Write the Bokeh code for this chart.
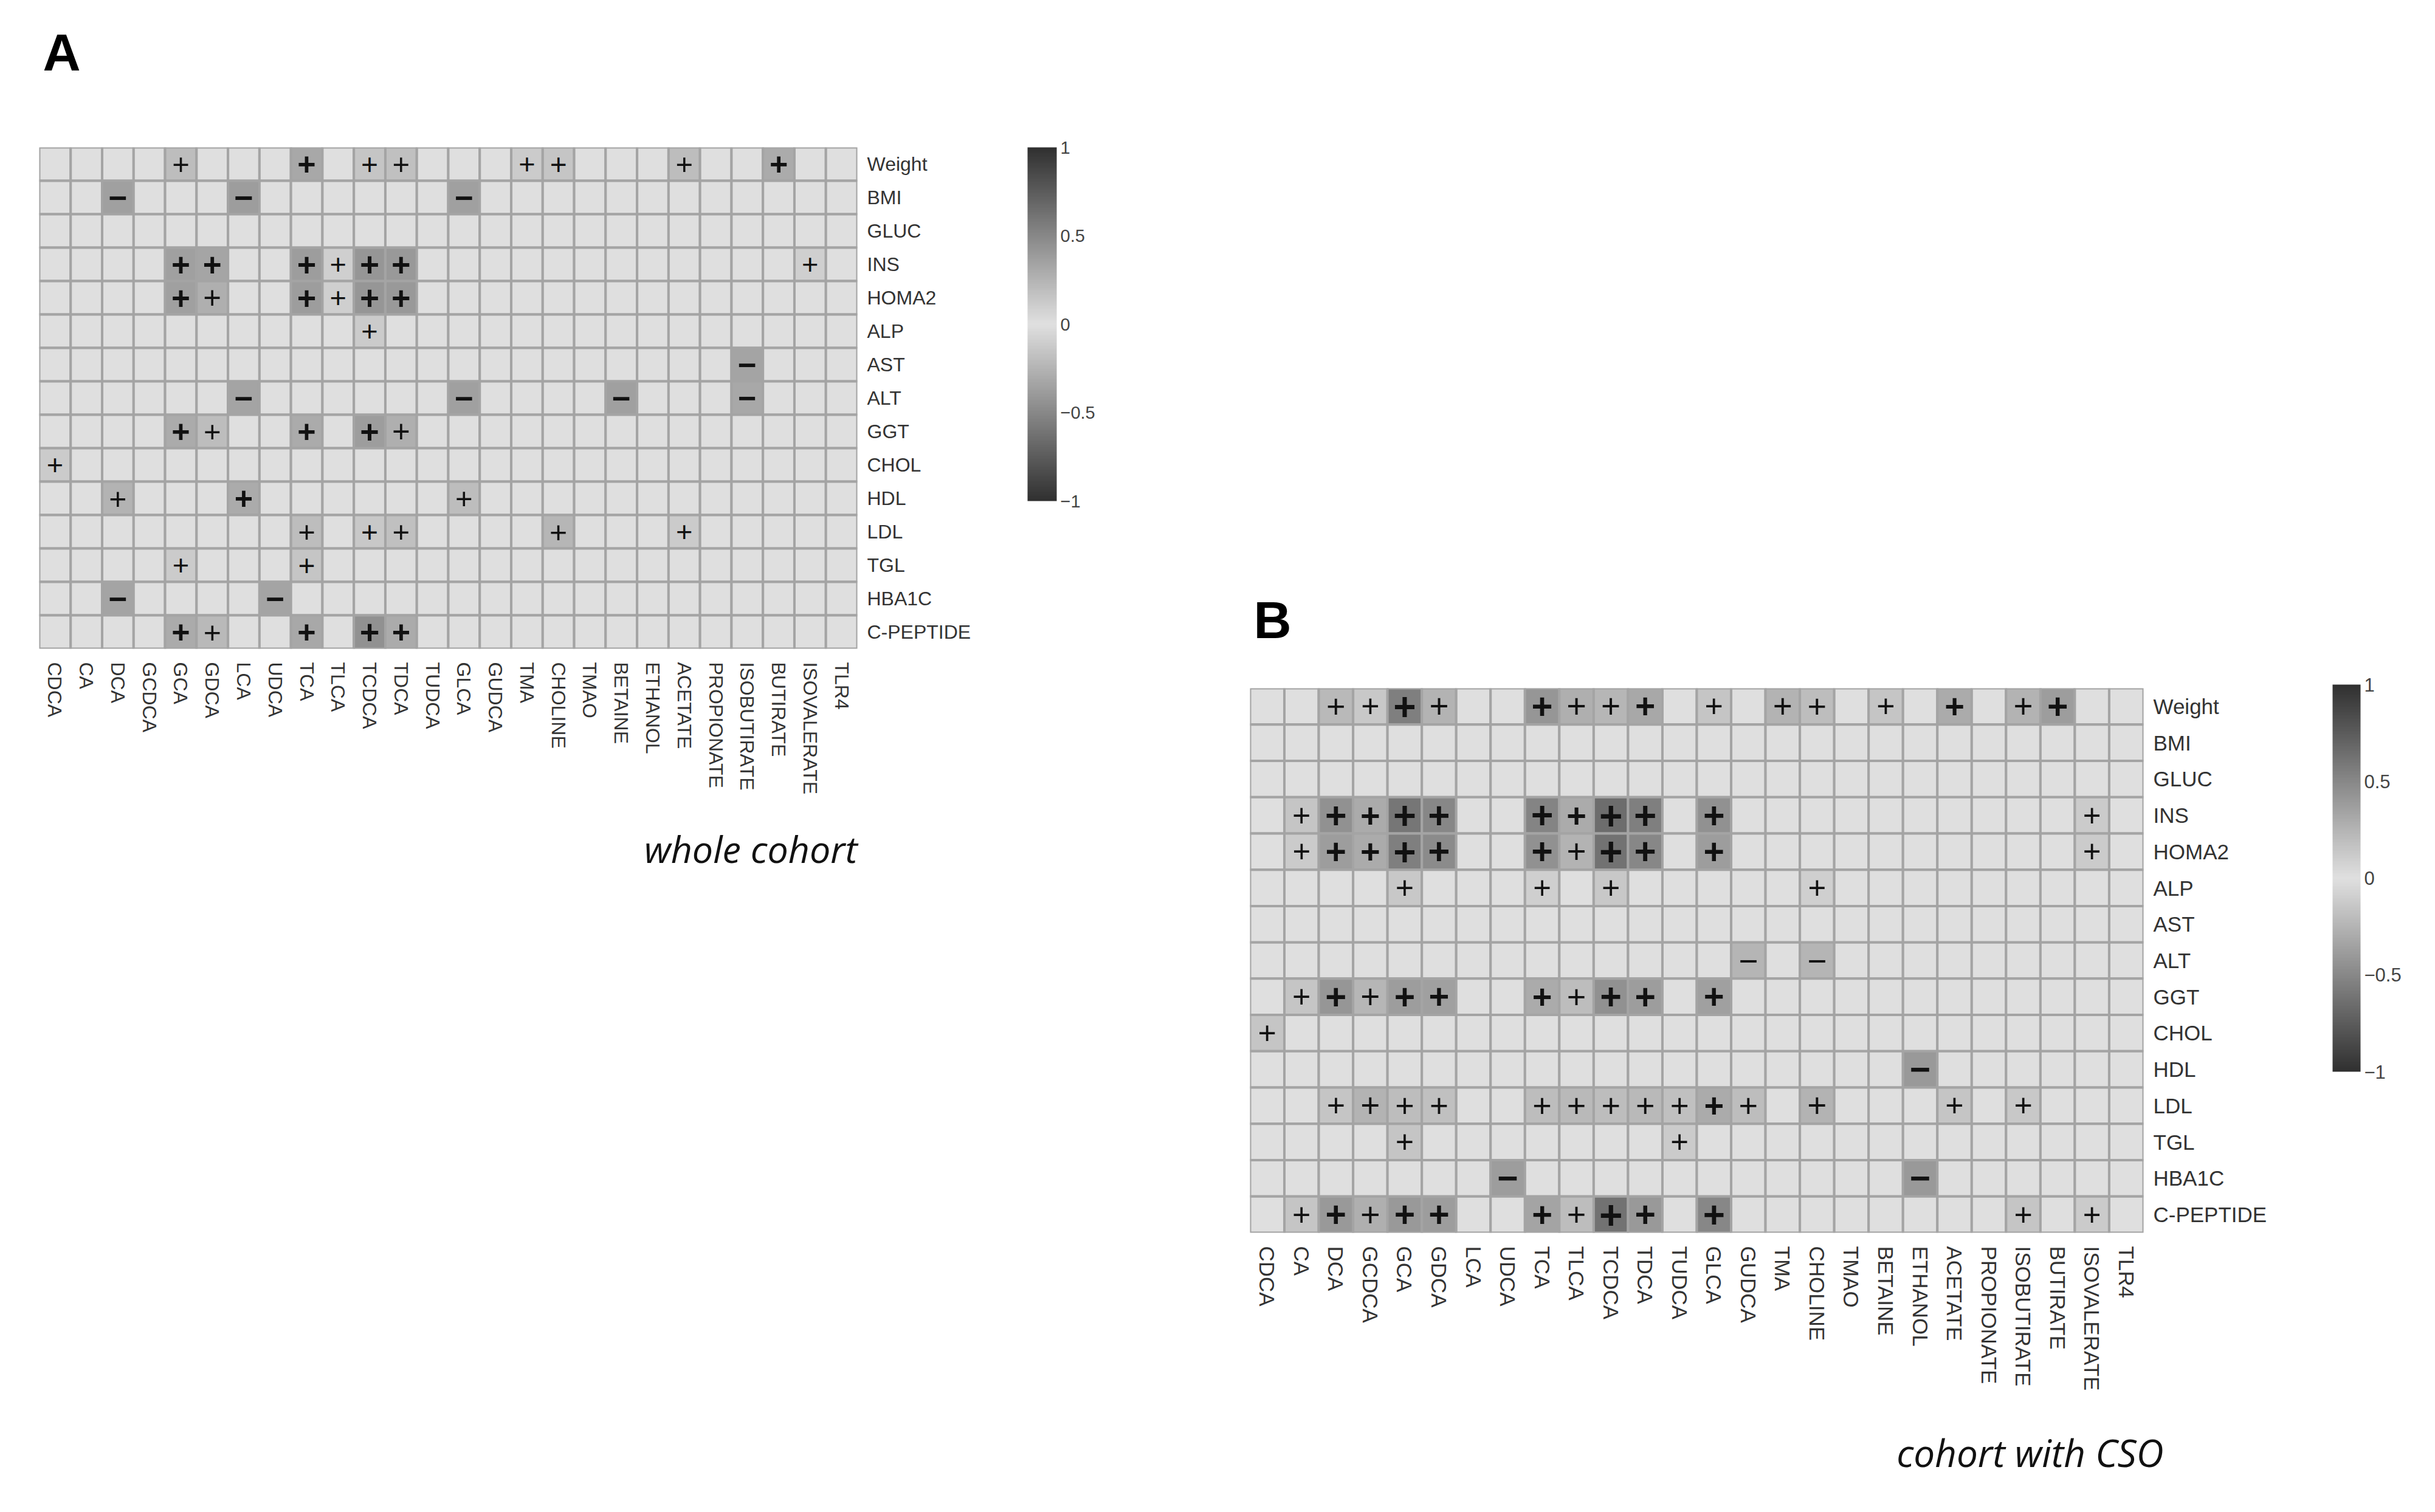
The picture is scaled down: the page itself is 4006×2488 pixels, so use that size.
import math
from bokeh.plotting import figure
from bokeh.models import (FactorRange, ColumnDataSource, LinearColorMapper, ColorBar,
                          FixedTicker, Title)
from bokeh.layouts import row
from bokeh.transform import transform
from bokeh.core.properties import value, field
from bokeh.embed import file_html
from bokeh.resources import INLINE

COLUMNS = ["CDCA", "CA", "DCA", "GCDCA", "GCA", "GDCA", "LCA", "UDCA", "TCA", "TLCA",
           "TCDCA", "TDCA", "TUDCA", "GLCA", "GUDCA", "TMA", "CHOLINE", "TMAO", "BETAINE",
           "ETHANOL", "ACETATE", "PROPIONATE", "ISOBUTIRATE", "BUTIRATE", "ISOVALERATE", "TLR4"]
ROWS = ["Weight", "BMI", "GLUC", "INS", "HOMA2", "ALP", "AST", "ALT", "GGT", "CHOL",
        "HDL", "LDL", "TGL", "HBA1C", "C-PEPTIDE"]
COLORBAR_TICKS = [-1, -0.5, 0, 0.5, 1]
COLORBAR_LABELS = ["\u22121", "\u22120.5", "0", "0.5", "1"]
PANEL_LETTERS = ["A", "B"]
CAPTIONS = ["whole cohort", "cohort with CSO"]

# Panel A (whole cohort): correlation values, columns in COLUMNS order
A_WEIGHT = [0, 0, 0, 0, .20, 0, 0, 0, .32, 0, .15, .18, 0, 0, 0, .12, .15, 0, 0, 0, .20, 0, 0, .30, 0, 0]
A_BMI    = [0, 0, -.36, 0, 0, 0, -.38, 0, 0, 0, 0, 0, 0, -.36, 0, 0, 0, 0, 0, 0, 0, 0, 0, 0, 0, 0]
A_GLUC   = [0, 0, 0, 0, 0, 0, 0, 0, 0, 0, 0, 0, 0, 0, 0, 0, 0, 0, 0, 0, 0, 0, 0, 0, 0, 0]
A_INS    = [0, 0, 0, 0, .36, .33, 0, 0, .38, .10, .42, .40, 0, 0, 0, 0, 0, 0, 0, 0, 0, 0, 0, 0, .10, 0]
A_HOMA2  = [0, 0, 0, 0, .36, .28, 0, 0, .38, .10, .42, .40, 0, 0, 0, 0, 0, 0, 0, 0, 0, 0, 0, 0, 0, 0]
A_ALP    = [0, 0, 0, 0, 0, 0, 0, 0, 0, 0, .12, 0, 0, 0, 0, 0, 0, 0, 0, 0, 0, 0, 0, 0, 0, 0]
A_AST    = [0, 0, 0, 0, 0, 0, 0, 0, 0, 0, 0, 0, 0, 0, 0, 0, 0, 0, 0, 0, 0, 0, -.34, 0, 0, 0]
A_ALT    = [0, 0, 0, 0, 0, 0, -.34, 0, 0, 0, 0, 0, 0, -.36, 0, 0, 0, 0, -.36, 0, 0, 0, -.32, 0, 0, 0]
A_GGT    = [0, 0, 0, 0, .30, .20, 0, 0, .30, 0, .38, .28, 0, 0, 0, 0, 0, 0, 0, 0, 0, 0, 0, 0, 0, 0]
A_CHOL   = [.12, 0, 0, 0, 0, 0, 0, 0, 0, 0, 0, 0, 0, 0, 0, 0, 0, 0, 0, 0, 0, 0, 0, 0, 0, 0]
A_HDL    = [0, 0, .25, 0, 0, 0, .30, 0, 0, 0, 0, 0, 0, .20, 0, 0, 0, 0, 0, 0, 0, 0, 0, 0, 0, 0]
A_LDL    = [0, 0, 0, 0, 0, 0, 0, 0, .20, 0, .14, .18, 0, 0, 0, 0, .24, 0, 0, 0, .12, 0, 0, 0, 0, 0]
A_TGL    = [0, 0, 0, 0, .12, 0, 0, 0, .15, 0, 0, 0, 0, 0, 0, 0, 0, 0, 0, 0, 0, 0, 0, 0, 0, 0]
A_HBA1C  = [0, 0, -.34, 0, 0, 0, 0, -.34, 0, 0, 0, 0, 0, 0, 0, 0, 0, 0, 0, 0, 0, 0, 0, 0, 0, 0]
A_CPEP   = [0, 0, 0, 0, .30, .22, 0, 0, .32, 0, .45, .30, 0, 0, 0, 0, 0, 0, 0, 0, 0, 0, 0, 0, 0, 0]

# Panel B (cohort with CSO)
B_WEIGHT = [0, 0, .22, .14, .55, .25, 0, 0, .42, .28, .24, .32, 0, .15, 0, .25, .20, 0, .15, 0, .30, 0, .25, .38, 0, 0]
B_BMI    = [0, 0, 0, 0, 0, 0, 0, 0, 0, 0, 0, 0, 0, 0, 0, 0, 0, 0, 0, 0, 0, 0, 0, 0, 0, 0]
B_GLUC   = [0, 0, 0, 0, 0, 0, 0, 0, 0, 0, 0, 0, 0, 0, 0, 0, 0, 0, 0, 0, 0, 0, 0, 0, 0, 0]
B_INS    = [0, .15, .45, .30, .60, .50, 0, 0, .52, .30, .65, .55, 0, .45, 0, 0, 0, 0, 0, 0, 0, 0, 0, 0, .12, 0]
B_HOMA2  = [0, .12, .38, .30, .55, .48, 0, 0, .45, .25, .62, .50, 0, .38, 0, 0, 0, 0, 0, 0, 0, 0, 0, 0, .12, 0]
B_ALP    = [0, 0, 0, 0, .14, 0, 0, 0, .10, 0, .14, 0, 0, 0, 0, 0, .10, 0, 0, 0, 0, 0, 0, 0, 0, 0]
B_AST    = [0, 0, 0, 0, 0, 0, 0, 0, 0, 0, 0, 0, 0, 0, 0, 0, 0, 0, 0, 0, 0, 0, 0, 0, 0, 0]
B_ALT    = [0, 0, 0, 0, 0, 0, 0, 0, 0, 0, 0, 0, 0, 0, -.25, 0, -.25, 0, 0, 0, 0, 0, 0, 0, 0, 0]
B_GGT    = [0, .15, .42, .24, .38, .36, 0, 0, .30, .20, .45, .38, 0, .36, 0, 0, 0, 0, 0, 0, 0, 0, 0, 0, 0, 0]
B_CHOL   = [.15, 0, 0, 0, 0, 0, 0, 0, 0, 0, 0, 0, 0, 0, 0, 0, 0, 0, 0, 0, 0, 0, 0, 0, 0, 0]
B_HDL    = [0, 0, 0, 0, 0, 0, 0, 0, 0, 0, 0, 0, 0, 0, 0, 0, 0, 0, 0, -.40, 0, 0, 0, 0, 0, 0]
B_LDL    = [0, 0, .15, .25, .20, .18, 0, 0, .20, .22, .20, .22, .18, .30, .20, 0, .25, 0, 0, 0, .15, 0, .14, 0, 0, 0]
B_TGL    = [0, 0, 0, 0, .15, 0, 0, 0, 0, 0, 0, 0, .12, 0, 0, 0, 0, 0, 0, 0, 0, 0, 0, 0, 0, 0]
B_HBA1C  = [0, 0, 0, 0, 0, 0, 0, -.38, 0, 0, 0, 0, 0, 0, 0, 0, 0, 0, 0, -.40, 0, 0, 0, 0, 0, 0]
B_CPEP   = [0, .15, .40, .28, .40, .38, 0, 0, .34, .20, .62, .40, 0, .50, 0, 0, 0, 0, 0, 0, 0, 0, .15, 0, .12, 0]

A_ROWS = [A_WEIGHT, A_BMI, A_GLUC, A_INS, A_HOMA2, A_ALP, A_AST, A_ALT, A_GGT, A_CHOL,
          A_HDL, A_LDL, A_TGL, A_HBA1C, A_CPEP]
B_ROWS = [B_WEIGHT, B_BMI, B_GLUC, B_INS, B_HOMA2, B_ALP, B_AST, B_ALT, B_GGT, B_CHOL,
          B_HDL, B_LDL, B_TGL, B_HBA1C, B_CPEP]


def gray(t):
    g = int(round(224 - 176 * abs(t)))
    return "#%02x%02x%02x" % (g, g, g)


PALETTE = [gray(-1 + 2 * i / 255) for i in range(256)]
FONT = "Liberation Sans"
TITLE_PROPS = Title.properties()


def make_title(text, standoff, **kw):
    if "standoff" in TITLE_PROPS:
        kw["standoff"] = standoff
    return Title(text=text, **kw)


def make_panel(rows_vals, letter, caption, frame_w, frame_h, b_left, b_top, b_right, b_bottom,
               label_px, cbar_w, cbar_h, cbar_loc, cbar_px, sign_scale, cap_px,
               letter_gap, cap_standoff, cap_offset):
    xs, ys, vs, signs, sizes, styles = [], [], [], [], [], []
    for rname, vals in zip(ROWS, rows_vals):
        for cname, v in zip(COLUMNS, vals):
            xs.append(cname)
            ys.append(rname)
            vs.append(v)
            if v > 0:
                signs.append("+")
            elif v < 0:
                signs.append("\u2212")
            else:
                signs.append("")
            sizes.append("%dpx" % round((44 + 26 * abs(v)) * sign_scale))
            styles.append("bold" if abs(v) >= 0.3 else "normal")
    src = ColumnDataSource(dict(x=xs, y=ys, v=vs, sign=signs, size=sizes, style=styles))
    mapper = LinearColorMapper(palette=PALETTE, low=-1, high=1)

    p = figure(x_range=FactorRange(factors=COLUMNS),
               y_range=FactorRange(factors=list(reversed(ROWS))),
               frame_width=frame_w, frame_height=frame_h,
               min_border_left=b_left, min_border_top=b_top,
               min_border_right=b_right, min_border_bottom=b_bottom,
               x_axis_location="below", y_axis_location="right",
               output_backend="svg", toolbar_location=None, tools="")
    if "frame_align" in type(p).properties():
        p.frame_align = False
    p.rect("x", "y", 1, 1, source=src, fill_color=transform("v", mapper),
           line_color="#a4a4a4", line_width=4)
    p.text("x", "y", text="sign", source=src, text_align="center", text_baseline="middle",
           text_font=value(FONT), text_font_size=field("size"), text_font_style=field("style"),
           text_color="#111111")

    p.grid.grid_line_color = None
    p.outline_line_color = None
    p.background_fill_color = "white"
    for ax in (p.xaxis[0], p.yaxis[0]):
        ax.axis_line_color = None
        ax.major_tick_line_color = None
        ax.minor_tick_line_color = None
        ax.major_label_text_font = FONT
        ax.major_label_text_font_size = "%dpx" % label_px
        ax.major_label_text_color = "#333333"
    p.xaxis.major_label_orientation = -math.pi / 2
    p.xaxis.major_label_standoff = 16
    p.yaxis.major_label_standoff = 10

    cbar = ColorBar(color_mapper=mapper, ticker=FixedTicker(ticks=COLORBAR_TICKS),
                    major_label_overrides=dict(zip(COLORBAR_TICKS, COLORBAR_LABELS)),
                    width=cbar_w, height=cbar_h, location=cbar_loc, margin=0, padding=0,
                    bar_line_color=None, major_tick_line_color=None,
                    minor_tick_line_color=None, label_standoff=6,
                    major_label_text_font=FONT,
                    major_label_text_font_size="%dpx" % cbar_px,
                    major_label_text_color="#444444",
                    background_fill_color=None, border_line_color=None)
    p.add_layout(cbar, "right")

    # spacer between the frame and the panel letter
    p.add_layout(make_title(" ", letter_gap, text_font=FONT, text_font_size="2px",
                            text_color="#ffffff"), "above")
    p.add_layout(make_title(letter, 10, align="left", offset=6, text_font=FONT,
                            text_font_size="86px", text_font_style="bold",
                            text_color="#000000"), "above")
    p.add_layout(make_title(caption, cap_standoff, align="right", offset=cap_offset,
                            text_font="Open Sans",
                            text_font_size="%dpx" % cap_px, text_font_style="italic",
                            text_color="#111111"), "below")
    return p


pa = make_panel(A_ROWS, PANEL_LETTERS[0], CAPTIONS[0], 1346, 825, 64, 242, 432, 440,
                32, 48, 582, (90, 243), 29, 1.0, 61, 100, 84, 0)
pb = make_panel(B_ROWS, PANEL_LETTERS[1], CAPTIONS[1], 1470, 896, 214, 1132, 464, 450,
                35, 46, 637, (105, 265), 31, 1.09, 62, 56, 108, -33)

layout = row(pa, pb)
open("out.html", "w").write(file_html(layout, INLINE))
